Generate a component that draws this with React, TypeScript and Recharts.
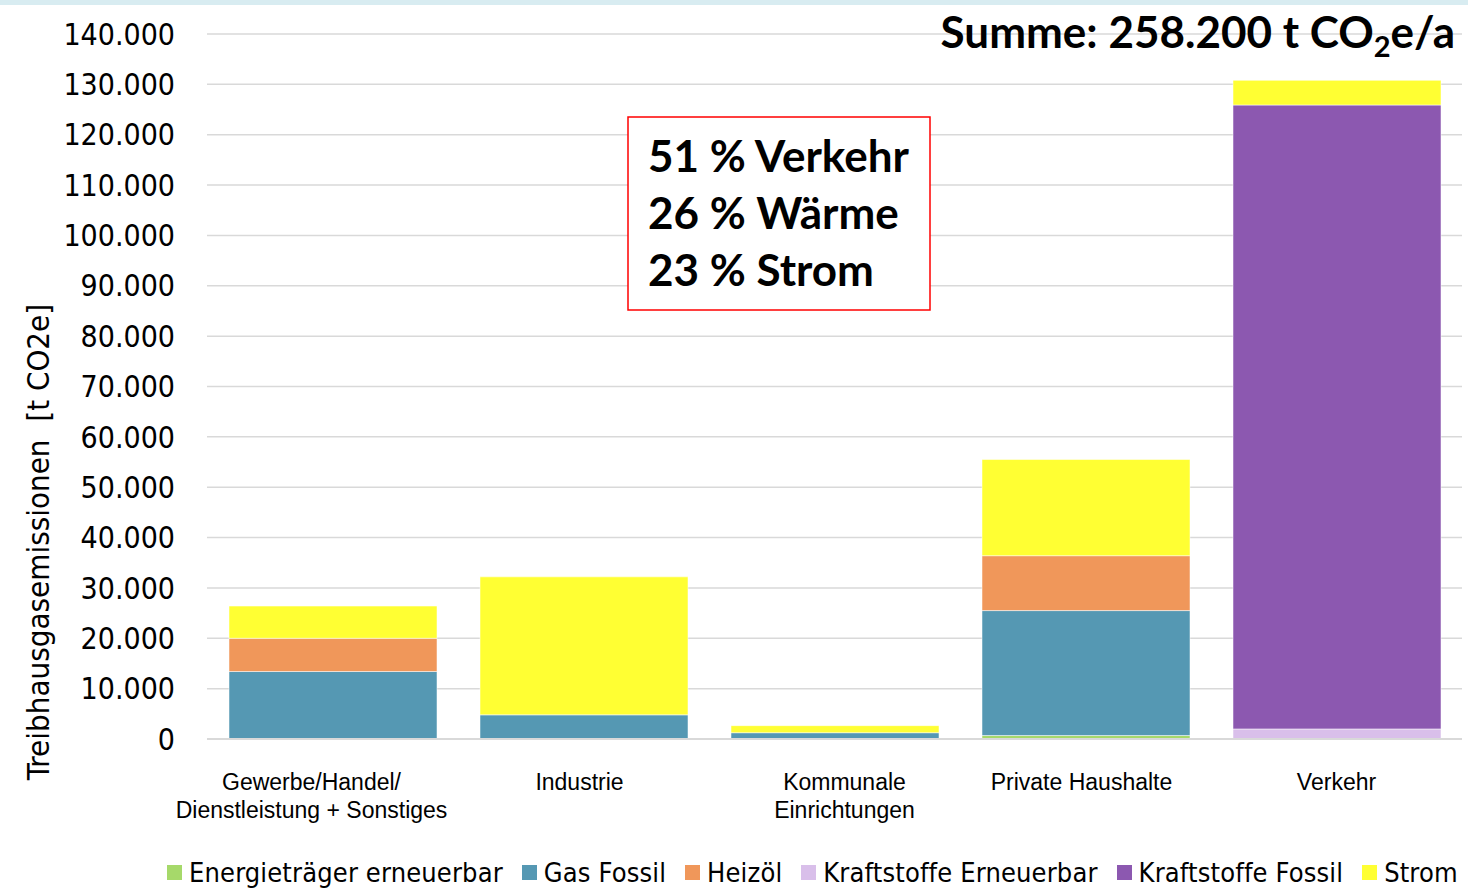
import React from "react";
import { BarChart, Bar, XAxis, YAxis, CartesianGrid } from "recharts";

// Sektoren (Zeilenumbruch mit \n)
const CATEGORIES = [
  "Gewerbe/Handel/\nDienstleistung + Sonstiges",
  "Industrie",
  "Kommunale\nEinrichtungen",
  "Private Haushalte",
  "Verkehr",
];

// Werte in t CO2e
const ERNEUERBAR = [0, 0, 0, 700, 0];
const GAS_FOSSIL = [13400, 4800, 1250, 24800, 0];
const HEIZOEL = [6600, 0, 0, 10900, 0];
const KRAFTSTOFFE_ERN = [0, 0, 0, 0, 2000];
const KRAFTSTOFFE_FOS = [0, 0, 0, 0, 123900];
const STROM = [6400, 27400, 1400, 19100, 4900];

const Y_TICKS = [0, 10000, 20000, 30000, 40000, 50000, 60000, 70000, 80000, 90000, 100000, 110000, 120000, 130000, 140000];

const SHARES = ["51 % Verkehr", "26 % Wärme", "23 % Strom"];

const SERIES = [
  { key: "erneuerbar", name: "Energieträger erneuerbar", color: "#a6d96a" },
  { key: "gas", name: "Gas Fossil", color: "#5598b3" },
  { key: "heizoel", name: "Heizöl", color: "#f0975a" },
  { key: "kraftErn", name: "Kraftstoffe Erneuerbar", color: "#d9bfea" },
  { key: "kraftFos", name: "Kraftstoffe Fossil", color: "#8c58b0" },
  { key: "strom", name: "Strom", color: "#ffff33" },
];

// kleine Verschiebung der Achsenbeschriftung wie im Original
const TICK_NUDGE: Record<string, number> = {
  "Gewerbe/Handel/\nDienstleistung + Sonstiges": -21,
  Industrie: -4,
  "Kommunale\nEinrichtungen": 10,
  "Private Haushalte": -4,
};

const data = CATEGORIES.map((name, i) => ({
  name,
  erneuerbar: ERNEUERBAR[i],
  gas: GAS_FOSSIL[i],
  heizoel: HEIZOEL[i],
  kraftErn: KRAFTSTOFFE_ERN[i],
  kraftFos: KRAFTSTOFFE_FOS[i],
  strom: STROM[i],
}));

const TAHOMA = "'DejaVu Sans Condensed', 'DejaVu Sans', sans-serif";
const CALIBRI = "Lato, 'Open Sans', sans-serif";

const formatDe = (v: number) => String(v).replace(/\B(?=(\d{3})+(?!\d))/g, ".");

const CategoryTick = (props: any) => {
  const { x, y, payload } = props;
  const lines = String(payload.value).split("\n");
  const cx = x + (TICK_NUDGE[payload.value] || 0);
  return (
    <text
      x={cx}
      y={y + 49}
      textAnchor="middle"
      fill="#000"
      fontSize={23}
      fontFamily="'Liberation Sans', Arial, sans-serif"
    >
      {lines.map((l, i) => (
        <tspan key={i} x={cx} dy={i === 0 ? 0 : 28}>
          {l}
        </tspan>
      ))}
    </text>
  );
};

export default function App() {
  return (
    <div
      style={{
        position: "absolute",
        left: 0,
        top: 0,
        width: 1468,
        height: 888,
        background: "#fff",
        overflow: "hidden",
      }}
    >
      <div style={{ position: "absolute", left: 0, top: 0, width: 1468, height: 5, background: "#d8ecf1" }} />
      <BarChart
        width={1468}
        height={888}
        data={data}
        margin={{ top: 34, right: 6, bottom: 0, left: 0 }}
        barSize={208}
      >
        <CartesianGrid vertical={false} stroke="#d9d9d9" strokeWidth={1.5} />
        <XAxis
          dataKey="name"
          height={149}
          axisLine={{ stroke: "#d9d9d9", strokeWidth: 2 }}
          tickLine={false}
          tickSize={0}
          tick={<CategoryTick />}
          interval={0}
        />
        <YAxis
          width={207}
          domain={[0, 140000]}
          ticks={Y_TICKS}
          axisLine={false}
          tickLine={false}
          tickSize={0}
          tickMargin={32}
          tickFormatter={formatDe}
          tick={{ fill: "#000", fontSize: 30, fontFamily: TAHOMA, fontStretch: "condensed" }}
        />
        {SERIES.map((s) => (
          <Bar
            key={s.key}
            dataKey={s.key}
            name={s.name}
            stackId="a"
            fill={s.color}
            stroke="#ffffff"
            strokeOpacity={0.5}
            strokeWidth={1}
            isAnimationActive={false}
          />
        ))}
      </BarChart>

      <svg
        width={1468}
        height={888}
        style={{ position: "absolute", left: 0, top: 0, pointerEvents: "none" }}
      >
        <text
          x={1455}
          y={48}
          textAnchor="end"
          fontFamily={CALIBRI}
          fontWeight={700}
          fontSize={44}
          fill="#000"
        >
          Summe: 258.200 t CO
          <tspan fontSize={29} dy={9}>2</tspan>
          <tspan dy={-9}>e/a</tspan>
        </text>

        <rect x={628} y={117} width={302} height={193} fill="#fff" stroke="#ff0000" strokeWidth={1.5} />
        {SHARES.map((t, i) => (
          <text
            key={t}
            x={648}
            y={172 + i * 57}
            fontFamily={CALIBRI}
            fontWeight={700}
            fontSize={44}
            fill="#000"
          >
            {t}
          </text>
        ))}

        <text
          transform="translate(49, 542) rotate(-90)"
          textAnchor="middle"
          fontFamily={TAHOMA}
          fontStretch="condensed"
          fontSize={31}
          fill="#000"
          style={{ whiteSpace: "pre" }}
        >
          {"Treibhausgasemissionen  [t CO2e]"}
        </text>
      </svg>

      <div
        style={{
          position: "absolute",
          left: 167,
          top: 854,
          height: 36,
          display: "flex",
          alignItems: "center",
          fontFamily: TAHOMA,
          fontStretch: "condensed",
          fontSize: 27,
          letterSpacing: 0.15,
          color: "#000",
          whiteSpace: "nowrap",
        }}
      >
        {SERIES.map((s) => (
          <div key={s.key} style={{ display: "flex", alignItems: "center", marginRight: 19 }}>
            <span style={{ width: 15, height: 15, background: s.color, marginRight: 7, display: "inline-block" }} />
            <span>{s.name}</span>
          </div>
        ))}
      </div>
    </div>
  );
}
